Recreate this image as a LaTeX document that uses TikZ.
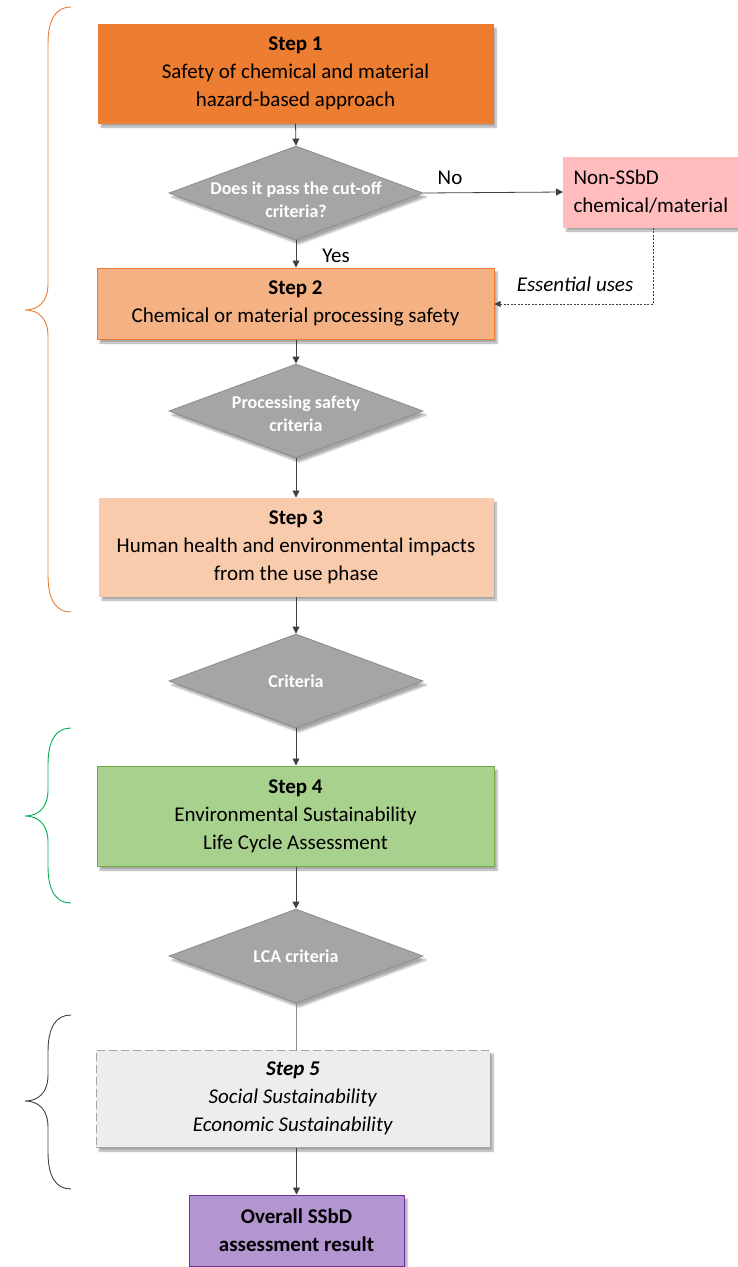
\documentclass[tikz,border=0pt]{standalone}
\usepackage{fontspec}
\setmainfont{Carlito}
\usetikzlibrary{shapes.geometric,arrows.meta,shadows.blur}
\definecolor{orA}{HTML}{ED7D31}
\definecolor{orB}{HTML}{F4B183}
\definecolor{orC}{HTML}{F8CBAD}
\definecolor{pinkA}{HTML}{FFBDBD}
\definecolor{grA}{HTML}{A5A5A5}
\definecolor{grB}{HTML}{8C8C8C}
\definecolor{grnA}{HTML}{A9D18E}
\definecolor{grnB}{HTML}{70AD47}
\definecolor{grnC}{HTML}{00B050}
\definecolor{ltA}{HTML}{EDEDED}
\definecolor{puA}{HTML}{B396CF}
\definecolor{puB}{HTML}{7030A0}
\definecolor{lineC}{HTML}{404040}
\newcommand\ssbdbrace[4]{%
  \draw[#1, line width=0.9pt] (71,#2) .. controls (56,#2) and (48,#2+12) .. (48,#2+37)
    -- (48,#3-26) .. controls (48,#3-8) and (38,#3) .. (25,#3)
    .. controls (38,#3) and (48,#3+8) .. (48,#3+26)
    -- (48,#4-37) .. controls (48,#4-12) and (56,#4) .. (71,#4);}
\begin{document}
\begin{tikzpicture}[x=1pt,y=-1pt,
  shd/.style={blur shadow={shadow xshift=3pt,shadow yshift=-4pt,shadow blur steps=6,shadow opacity=35}},
  stepbox/.style={rectangle, line width=1pt, align=center, inner sep=0pt,
    font=\fontsize{21}{28}\selectfont, shd},
  dia/.style={diamond, fill=grA, draw=grB, line width=0.8pt, minimum width=254pt,
    minimum height=94pt, inner sep=0pt, shd},
  dtext/.style={text=white, font=\bfseries\fontsize{18}{23}\selectfont, align=center},
  arr/.style={draw=lineC, line width=0.8pt, -{Triangle[width=7pt,length=7pt]}},
  lbl/.style={font=\fontsize{21}{24}\selectfont}]
\useasboundingbox (0,0) rectangle (738,1267);

\node[stepbox, fill=orA, draw=orA, minimum width=395pt, minimum height=99pt] (s1) at (295.5,73.5)
  {\textbf{Step 1}\\Safety of chemical and material\\hazard-based approach};
\node[dia, label={[dtext,yshift=-7pt]center:{Does it pass the cut-off\\criteria?}}] (d1) at (296,193) {};
\node[stepbox, fill=pinkA, draw=pinkA, minimum width=175pt, minimum height=70pt, anchor=west] (ns) at (563,192) {};
\node[anchor=west, align=left, font=\fontsize{21}{28}\selectfont] (nst) at (570,192) {Non-SSbD\\chemical/material};
\node[stepbox, fill=orB, draw=orA, minimum width=397pt, minimum height=71pt] (s2) at (295.5,303.5)
  {\textbf{Step 2}\\Chemical or material processing safety};
\node[dia, label={[dtext,yshift=-3pt]center:{Processing safety\\criteria}}] (d2) at (296,411) {};
\node[stepbox, fill=orC, draw=orC, minimum width=394pt, minimum height=98pt] (s3) at (296,547)
  {\textbf{Step 3}\\Human health and environmental impacts\\from the use phase};
\node[dia, label={[dtext]center:{Criteria}}] (d3) at (296,681) {};
\node[stepbox, fill=grnA, draw=grnB, minimum width=397pt, minimum height=100pt] (s4) at (295.5,816)
  {\textbf{Step 4}\\Environmental Sustainability\\Life Cycle Assessment};
\node[dia, label={[dtext]center:{LCA criteria}}] (d4) at (296,956) {};
\node[stepbox, fill=ltA, draw=grA, dashed, dash pattern=on 8pt off 4pt, minimum width=394pt, minimum height=97pt] (s5) at (293,1098.5)
  {\textbf{\textit{Step 5}}\\\textit{Social Sustainability}\\\textit{Economic Sustainability}};
\node[stepbox, fill=puA, draw=puB, minimum width=215pt, minimum height=71pt] (s6) at (296.5,1230.5)
  {\textbf{Overall SSbD}\\\textbf{assessment result}};

\node[lbl] (no) at (450,178) {No};
\node[lbl] (yes) at (336,256) {Yes};
\node[lbl, font=\itshape\fontsize{21}{24}\selectfont] (eu) at (575,284) {Essential uses};

\draw[arr] (s1.south) -- (d1.north);
\draw[arr] (d1.south) -- (s2.north -| d1.south);
\draw[arr] (d1.east) -- (ns.west);
\coordinate (ek) at (653,304);
\draw[draw=lineC, line width=0.6pt, dash pattern=on 2pt off 1.5pt, -{Triangle[width=6pt,length=6pt]}]
  (ns.south -| ek) -- (ek) -- (s2.east |- ek);
\draw[arr] (s2.south -| d2.north) -- (d2.north);
\draw[arr] (d2.south) -- (s3.north -| d2.south);
\draw[arr] (s3.south -| d3.north) -- (d3.north);
\draw[arr] (d3.south) -- (s4.north -| d3.south);
\draw[arr] (s4.south -| d4.north) -- (d4.north);
\draw[draw=grB, line width=0.8pt] (d4.south) -- (s5.north -| d4.south);
\draw[arr] (s5.south -| s6.north) -- (s6.north);

\ssbdbrace{orA}{7}{310}{612}
\ssbdbrace{grnC}{728}{816}{903}
\ssbdbrace{lineC}{1015}{1101}{1189}
\end{tikzpicture}
\end{document}
